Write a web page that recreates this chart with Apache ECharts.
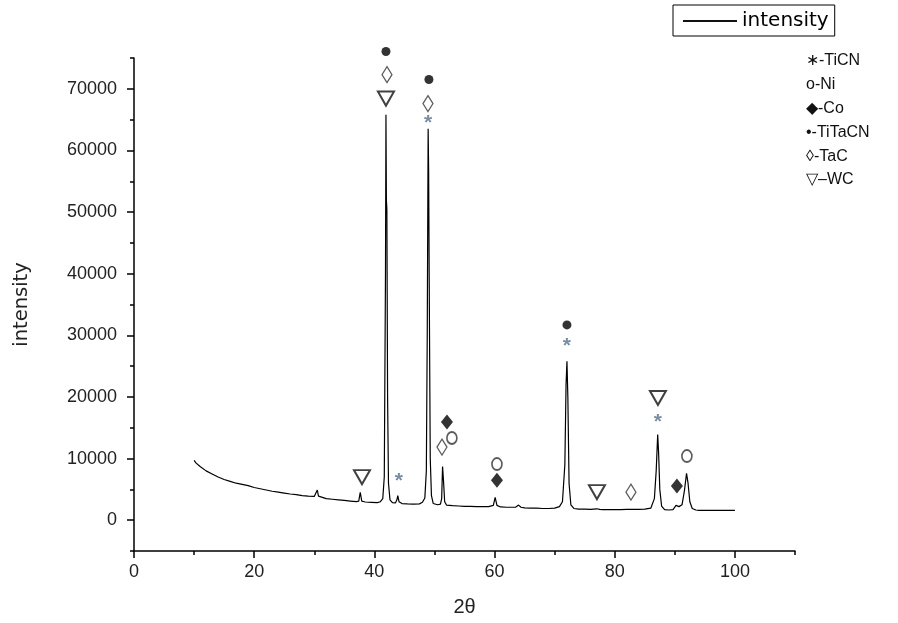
<!DOCTYPE html>
<html>
<head>
<meta charset="utf-8">
<script src="https://cdn.jsdelivr.net/npm/echarts@6/dist/echarts.min.js"></script>
<style>
html,body{margin:0;padding:0;background:#fff;}
#chart{width:898px;height:623px;}
</style>
</head>
<body>
<div id="chart"></div>
<script>
// XRD pattern [2θ, intensity]
const pattern = [
  [10.0, 9700], [10.3, 9300], [11, 8700], [12, 8000], [13, 7500], [14, 7000], [15, 6600],
  [16, 6300], [17, 6000], [18, 5800], [19, 5600], [20, 5300], [21, 5100], [22, 4900],
  [23, 4700], [24, 4550], [25, 4400], [26, 4250], [27, 4150], [28, 4000], [29, 3900],
  [30, 3850], [30.3, 4000], [30.5, 4900], [30.7, 3900], [31, 3700], [32, 3500], [33, 3400],
  [34, 3300], [35, 3200], [36, 3100], [37, 3000], [37.4, 3100], [37.65, 4500], [37.9, 3100],
  [38.5, 2950], [39.5, 2900], [40.5, 2850], [41.0, 3000], [41.4, 3500], [41.65, 7000],
  [41.85, 40000], [41.93, 65800], [42.0, 52000], [42.08, 50500], [42.2, 20000], [42.35, 6000],
  [42.6, 3300], [43.0, 2850], [43.5, 2800], [43.75, 3300], [43.9, 4000], [44.1, 3000],
  [44.6, 2700], [45.5, 2650], [46.5, 2600], [47.5, 2650], [48.0, 2900], [48.4, 3600],
  [48.65, 8000], [48.8, 30000], [48.95, 63500], [49.03, 57000], [49.12, 40000], [49.3, 10000],
  [49.5, 4000], [49.8, 2700], [50.5, 2500], [51.0, 2600], [51.2, 3500], [51.35, 8700],
  [51.5, 6500], [51.7, 3000], [52.0, 2450], [53, 2350], [54, 2300], [55, 2250], [56, 2250],
  [57, 2200], [58, 2200], [59, 2200], [59.8, 2400], [60.1, 3700], [60.4, 2400], [61, 2150],
  [62, 2100], [63.5, 2100], [64.0, 2450], [64.4, 2100], [65, 2000], [66, 1950], [67, 1950],
  [68, 1900], [69, 1900], [70, 1950], [70.8, 2200], [71.3, 3000], [71.7, 9000], [71.9, 22000],
  [72.05, 25800], [72.2, 20000], [72.4, 6000], [72.7, 2500], [73.2, 1900], [74, 1800],
  [75, 1800], [76, 1750], [77, 1850], [77.5, 1750], [78, 1700], [79, 1700], [80, 1700],
  [81, 1700], [82, 1750], [83, 1750], [84, 1750], [85, 1800], [86, 1950], [86.6, 3500],
  [86.9, 8000], [87.15, 13900], [87.3, 11000], [87.5, 5000], [87.8, 2300], [88.3, 1700],
  [89, 1650], [89.7, 1700], [90.2, 2400], [90.4, 2700], [90.7, 2200], [91.2, 2500],
  [91.6, 4800], [91.95, 7600], [92.2, 6000], [92.5, 3000], [92.9, 1900], [93.5, 1650],
  [94, 1600], [95, 1600], [96, 1600], [97, 1600], [98, 1600], [99, 1600], [100, 1600]
];

// Phase annotation marker positions [2θ, intensity]
const markTiTaCN = [[41.93, 76060], [49.08, 71510], [72.05, 31690]];
const markTaC    = [[42.1, 72300], [48.92, 67600], [51.25, 11860], [82.7, 4550]];
const markWC     = [[41.93, 68420], [37.94, 6990], [77.04, 4550], [87.19, 19830]];
const markTiCN   = [[48.92, 65010], [44.09, 6990], [72.05, 28930], [87.19, 16580]];
const markCo     = [[52.08, 15930], [60.4, 6500], [90.35, 5530]];
const markNi     = [[52.9, 13330], [60.4, 9100], [92.01, 10400]];

const xMajorTicks = [0, 20, 40, 60, 80, 100];
const xMinorTicks = [10, 30, 50, 70, 90, 110];
const yMajorTicks = [0, 10000, 20000, 30000, 40000, 50000, 60000, 70000];
const yMinorTicks = [-5000, 5000, 15000, 25000, 35000, 45000, 55000, 65000, 75000];

const keyLines = ['\u2217-TiCN', 'o-Ni', '\u25C6-Co', '\u2022-TiTaCN', '\u25CA-TaC', '\u25BD\u2013WC'];

const FONT = 'Liberation Sans, Arial, sans-serif';
const chart = echarts.init(document.getElementById('chart'));

const triDown = 'path://M0,0 L20,0 L10,18 Z';

function markerSeries(name, data, opt) {
  return Object.assign({
    name: name, type: 'scatter', data: data, clip: false, silent: true,
    xAxisIndex: 0, yAxisIndex: 0, z: 5
  }, opt);
}

const option = {
  backgroundColor: '#fff',
  animation: false,
  textStyle: { fontFamily: FONT },
  grid: { left: 134, right: 103, top: 58, bottom: 72, containLabel: false },
  legend: {
    data: [{ name: 'intensity', icon: 'path://M0,0 L54,0 L54,2 L0,2 Z' }],
    left: 673, top: 5,
    padding: [6, 6, 5, 10],
    itemWidth: 54, itemHeight: 2, itemGap: 6,
    borderColor: '#000', borderWidth: 1,
    itemStyle: { color: '#111' },
    textStyle: { fontSize: 20, color: '#000', fontFamily: 'DejaVu Sans, sans-serif', padding: [3, 0, 0, 0] }
  },
  xAxis: [{
    type: 'value', min: 0, max: 110, position: 'bottom',
    name: '2\u03B8', nameLocation: 'middle', nameGap: 46,
    nameTextStyle: { fontSize: 20, color: '#222', fontFamily: FONT },
    axisLine: { onZero: false, lineStyle: { color: '#000', width: 1.5 } },
    axisTick: { show: true, customValues: xMajorTicks, length: 7, lineStyle: { color: '#000', width: 1.5 } },
    axisLabel: { customValues: xMajorTicks, fontSize: 18, color: '#222', margin: 12, fontFamily: FONT },
    splitLine: { show: false }
  }, {
    type: 'value', min: 0, max: 110, position: 'bottom',
    axisLine: { show: false, onZero: false },
    axisTick: { show: true, customValues: xMinorTicks, length: 4, lineStyle: { color: '#000', width: 1.5 } },
    axisLabel: { show: false },
    splitLine: { show: false }
  }],
  yAxis: [{
    type: 'value', min: -5000, max: 75000, position: 'left',
    name: 'intensity', nameLocation: 'middle', nameGap: 102, nameRotate: 90,
    nameTextStyle: { fontSize: 19.5, color: '#222', fontFamily: 'DejaVu Sans, sans-serif' },
    axisLine: { onZero: false, lineStyle: { color: '#000', width: 1.5 } },
    axisTick: { show: true, customValues: yMajorTicks, length: 7, lineStyle: { color: '#000', width: 1.5 } },
    axisLabel: { customValues: yMajorTicks, fontSize: 18, color: '#222', margin: 17, fontFamily: FONT,
      formatter: v => String(v) },
    splitLine: { show: false }
  }, {
    type: 'value', min: -5000, max: 75000, position: 'left',
    axisLine: { show: false, onZero: false },
    axisTick: { show: true, customValues: yMinorTicks, length: 4, lineStyle: { color: '#000', width: 1.5 } },
    axisLabel: { show: false },
    splitLine: { show: false }
  }],
  graphic: keyLines.map((t, i) => ({
    type: 'text', left: 806, top: 53 + i * 23.8,
    style: { text: t, fontSize: 16, fill: '#111', fontFamily: FONT }
  })),
  series: [
    {
      name: 'intensity', type: 'line', data: pattern,
      xAxisIndex: 0, yAxisIndex: 0,
      symbol: 'none', showSymbol: false, smooth: false,
      lineStyle: { color: '#000', width: 1.2 }, itemStyle: { color: '#000' },
      z: 3
    },
    markerSeries('TiTaCN', markTiTaCN, {
      symbol: 'circle', symbolSize: 9, itemStyle: { color: '#000' }
    }),
    markerSeries('TaC', markTaC, {
      symbol: 'diamond', symbolSize: [10, 16],
      itemStyle: { color: '#fff', borderColor: '#333', borderWidth: 1.3 }
    }),
    markerSeries('WC', markWC, {
      symbol: triDown, symbolSize: [16, 14],
      itemStyle: { color: '#fff', borderColor: '#111', borderWidth: 2 }
    }),
    markerSeries('Co', markCo, {
      symbol: 'diamond', symbolSize: [12, 15], itemStyle: { color: '#000' }
    }),
    markerSeries('Ni', markNi, {
      symbol: 'circle', symbolSize: [10, 12],
      itemStyle: { color: '#fff', borderColor: '#333', borderWidth: 1.8 }
    }),
    markerSeries('TiCN', markTiCN, {
      symbol: 'circle', symbolSize: 1, itemStyle: { color: 'rgba(0,0,0,0)' },
      label: {
        show: true, position: 'inside', formatter: '*', fontSize: 21, fontWeight: 'bold',
        color: '#55708e', fontFamily: FONT, offset: [0, 4]
      }
    })
  ]
};
chart.setOption(option);
</script>
</body>
</html>
